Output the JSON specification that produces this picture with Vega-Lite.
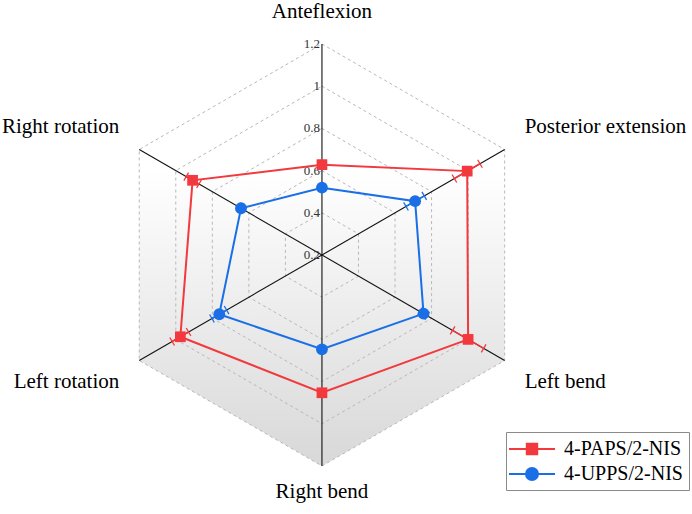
{
  "$schema": "https://vega.github.io/schema/vega-lite/v6.json",
  "width": 692,
  "height": 514,
  "autosize": {"type": "none"},
  "padding": 0,
  "background": "white",
  "config": {"view": {"stroke": null}, "font": "Liberation Serif"},
  "datasets": {
    "scores": [
      {"series": "4-PAPS/2-NIS", "axis": "Anteflexion", "i": 0, "value": 0.628, "err": 0.02},
      {"series": "4-PAPS/2-NIS", "axis": "Posterior extension", "i": 1, "value": 0.995, "err": 0.07},
      {"series": "4-PAPS/2-NIS", "axis": "Left bend", "i": 2, "value": 1.0, "err": 0.085},
      {"series": "4-PAPS/2-NIS", "axis": "Right bend", "i": 3, "value": 0.853, "err": 0.01},
      {"series": "4-PAPS/2-NIS", "axis": "Left rotation", "i": 4, "value": 0.975, "err": 0.045},
      {"series": "4-PAPS/2-NIS", "axis": "Right rotation", "i": 5, "value": 0.908, "err": 0.035},
      {"series": "4-UPPS/2-NIS", "axis": "Anteflexion", "i": 0, "value": 0.519, "err": 0.01},
      {"series": "4-UPPS/2-NIS", "axis": "Posterior extension", "i": 1, "value": 0.71, "err": 0.05},
      {"series": "4-UPPS/2-NIS", "axis": "Left bend", "i": 2, "value": 0.756, "err": 0.02},
      {"series": "4-UPPS/2-NIS", "axis": "Right bend", "i": 3, "value": 0.647, "err": 0.01},
      {"series": "4-UPPS/2-NIS", "axis": "Left rotation", "i": 4, "value": 0.762, "err": 0.04},
      {"series": "4-UPPS/2-NIS", "axis": "Right rotation", "i": 5, "value": 0.643, "err": 0.015}
    ],
    "axes": [
      {"i": 0, "axis": "Anteflexion"},
      {"i": 1, "axis": "Posterior extension"},
      {"i": 2, "axis": "Left bend"},
      {"i": 3, "axis": "Right bend"},
      {"i": 4, "axis": "Left rotation"},
      {"i": 5, "axis": "Right rotation"}
    ],
    "rings": [
      {"ring": 0.4, "k": [0, 1, 2, 3, 4, 5]},
      {"ring": 0.6, "k": [0, 1, 2, 3, 4, 5]},
      {"ring": 0.8, "k": [0, 1, 2, 3, 4, 5]},
      {"ring": 1.0, "k": [0, 1, 2, 3, 4, 5]},
      {"ring": 1.2, "k": [0, 1, 2, 3, 4, 5]}
    ],
    "ticklabels": [
      {"v": 0.2}, {"v": 0.4}, {"v": 0.6}, {"v": 0.8}, {"v": 1.0}, {"v": 1.2}
    ],
    "bg": [{"i": 5}, {"i": 0}, {"i": 1}]
  },
  "encoding": {
    "x": {"field": "x", "type": "quantitative", "scale": {"domain": [-1.526, 1.754], "nice": false, "zero": false}, "axis": null},
    "y": {"field": "y", "type": "quantitative", "scale": {"domain": [-1.2275, 1.2085], "nice": false, "zero": false}, "axis": null}
  },
  "layer": [
    {
      "data": {"name": "bg"},
      "transform": [
        {"calculate": "(90 - 60 * datum.i) * PI / 180", "as": "a"},
        {"calculate": "cos(datum.a)", "as": "x"},
        {"calculate": "sin(datum.a)", "as": "y"},
        {"calculate": "-sin(datum.a)", "as": "y2"}
      ],
      "mark": {
        "type": "area",
        "fill": {
          "gradient": "linear", "x1": 0, "y1": 0, "x2": 0, "y2": 1,
          "stops": [
            {"offset": 0, "color": "#ffffff"},
            {"offset": 0.3, "color": "#ffffff"},
            {"offset": 1, "color": "#d8d8d8"}
          ]
        },
        "stroke": null
      },
      "encoding": {"y2": {"field": "y2"}}
    },
    {
      "data": {"name": "rings"},
      "transform": [
        {"flatten": ["k"]},
        {"calculate": "(90 - 60 * datum.k) * PI / 180", "as": "a"},
        {"calculate": "(datum.ring - 0.2) * cos(datum.a)", "as": "x"},
        {"calculate": "(datum.ring - 0.2) * sin(datum.a)", "as": "y"}
      ],
      "mark": {"type": "line", "interpolate": "linear-closed", "stroke": "#b8b8b8", "strokeWidth": 1, "strokeDash": [3, 3]},
      "encoding": {
        "detail": {"field": "ring", "type": "nominal"},
        "order": {"field": "k", "type": "quantitative"}
      }
    },
    {
      "data": {"name": "axes"},
      "transform": [
        {"filter": "datum.i < 3"},
        {"calculate": "(90 - 60 * datum.i) * PI / 180", "as": "a"},
        {"calculate": "cos(datum.a)", "as": "x"},
        {"calculate": "sin(datum.a)", "as": "y"},
        {"calculate": "-cos(datum.a)", "as": "x2"},
        {"calculate": "-sin(datum.a)", "as": "y2"}
      ],
      "mark": {"type": "rule", "stroke": "#111111", "strokeWidth": 1.1},
      "encoding": {"x2": {"field": "x2"}, "y2": {"field": "y2"}}
    },
    {
      "data": {"name": "ticklabels"},
      "transform": [
        {"calculate": "0", "as": "x"},
        {"calculate": "datum.v - 0.2", "as": "y"}
      ],
      "mark": {"type": "text", "align": "right", "baseline": "middle", "dx": -2, "fontSize": 13, "font": "Liberation Serif", "fill": "#333333"},
      "encoding": {"text": {"field": "v", "type": "quantitative", "format": "~g"}}
    },
    {
      "data": {"name": "axes"},
      "transform": [
        {"calculate": "(90 - 60 * datum.i) * PI / 180", "as": "a"},
        {"calculate": "cos(datum.a)", "as": "x"},
        {"calculate": "sin(datum.a)", "as": "y"}
      ],
      "mark": {
        "type": "text",
        "font": "Liberation Serif",
        "fontSize": 21,
        "fill": "#000000",
        "baseline": "middle",
        "align": {"expr": "(datum.i == 1 || datum.i == 2) ? 'left' : ((datum.i == 4 || datum.i == 5) ? 'right' : 'center')"},
        "dx": {"expr": "(datum.i == 1 || datum.i == 2) ? 20 : ((datum.i == 4 || datum.i == 5) ? -20 : 0)"},
        "dy": {"expr": "datum.i == 0 ? -32 : (datum.i == 3 ? 26 : ((datum.i == 1 || datum.i == 5) ? -22 : 22))"}
      },
      "encoding": {"text": {"field": "axis", "type": "nominal"}}
    },
    {
      "data": {"name": "scores"},
      "transform": [
        {"calculate": "(90 - 60 * datum.i) * PI / 180", "as": "a"},
        {"calculate": "(datum.value - 0.2) * cos(datum.a)", "as": "x"},
        {"calculate": "(datum.value - 0.2) * sin(datum.a)", "as": "y"}
      ],
      "mark": {"type": "line", "interpolate": "linear-closed", "strokeWidth": 2},
      "encoding": {
        "order": {"field": "i", "type": "quantitative"},
        "color": {"field": "series", "type": "nominal"}
      }
    },
    {
      "data": {"name": "scores"},
      "transform": [
        {"calculate": "(90 - 60 * datum.i) * PI / 180", "as": "a"},
        {"calculate": "(datum.value - datum.err - 0.2) * cos(datum.a)", "as": "x"},
        {"calculate": "(datum.value - datum.err - 0.2) * sin(datum.a)", "as": "y"},
        {"calculate": "(datum.value + datum.err - 0.2) * cos(datum.a)", "as": "x2"},
        {"calculate": "(datum.value + datum.err - 0.2) * sin(datum.a)", "as": "y2"}
      ],
      "mark": {"type": "rule", "strokeWidth": 1.5},
      "encoding": {
        "x2": {"field": "x2"},
        "y2": {"field": "y2"},
        "color": {"field": "series", "type": "nominal"}
      }
    },
    {
      "data": {"name": "scores"},
      "transform": [
        {"calculate": "datum.value - datum.err", "as": "lo"},
        {"calculate": "datum.value + datum.err", "as": "hi"},
        {"fold": ["lo", "hi"], "as": ["end", "tv"]},
        {"calculate": "(90 - 60 * datum.i) * PI / 180", "as": "a"},
        {"calculate": "(datum.tv - 0.2) * cos(datum.a) + 0.022 * sin(datum.a)", "as": "x"},
        {"calculate": "(datum.tv - 0.2) * sin(datum.a) - 0.022 * cos(datum.a)", "as": "y"},
        {"calculate": "(datum.tv - 0.2) * cos(datum.a) - 0.022 * sin(datum.a)", "as": "x2"},
        {"calculate": "(datum.tv - 0.2) * sin(datum.a) + 0.022 * cos(datum.a)", "as": "y2"}
      ],
      "mark": {"type": "rule", "strokeWidth": 1.3},
      "encoding": {
        "x2": {"field": "x2"},
        "y2": {"field": "y2"},
        "color": {"field": "series", "type": "nominal"}
      }
    },
    {
      "data": {"name": "scores"},
      "transform": [
        {"filter": "datum.series === '4-PAPS/2-NIS'"},
        {"calculate": "(90 - 60 * datum.i) * PI / 180", "as": "a"},
        {"calculate": "(datum.value - 0.2) * cos(datum.a)", "as": "x"},
        {"calculate": "(datum.value - 0.2) * sin(datum.a)", "as": "y"}
      ],
      "mark": {"type": "point", "filled": true, "opacity": 1, "shape": "square", "size": 115},
      "encoding": {"color": {"field": "series", "type": "nominal"}}
    },
    {
      "data": {"name": "scores"},
      "transform": [
        {"filter": "datum.series === '4-UPPS/2-NIS'"},
        {"calculate": "(90 - 60 * datum.i) * PI / 180", "as": "a"},
        {"calculate": "(datum.value - 0.2) * cos(datum.a)", "as": "x"},
        {"calculate": "(datum.value - 0.2) * sin(datum.a)", "as": "y"}
      ],
      "mark": {"type": "point", "filled": true, "opacity": 1, "shape": "circle", "size": 140},
      "encoding": {"color": {"field": "series", "type": "nominal"}}
    },
    {
      "data": {"name": "scores"},
      "transform": [
        {"filter": "false"},
        {"calculate": "0", "as": "x"},
        {"calculate": "0", "as": "y"}
      ],
      "mark": {"type": "point", "filled": true, "opacity": 1, "size": 400, "strokeWidth": 2},
      "encoding": {
        "color": {
          "field": "series", "type": "nominal",
          "scale": {"domain": ["4-PAPS/2-NIS", "4-UPPS/2-NIS"], "range": ["#f2393d", "#1a6fe6"]},
          "legend": {
            "title": null,
            "orient": "none",
            "legendX": 506,
            "legendY": 432,
            "padding": 6,
            "strokeColor": "#8a8a8a",
            "fillColor": "#ffffff",
            "symbolSize": 400,
            "symbolStrokeWidth": 2,
            "symbolOffset": 9,
            "labelOffset": 21,
            "rowPadding": 4,
            "labelFont": "Liberation Serif",
            "labelFontSize": 20,
            "labelColor": "#000000"
          }
        },
        "shape": {
          "field": "series", "type": "nominal",
          "scale": {
            "domain": ["4-PAPS/2-NIS", "4-UPPS/2-NIS"],
            "range": [
              "M-2.3,0H2.3M-0.52,-0.52H0.52V0.52H-0.52Z",
              "M-2.3,0H2.3M0.6,0A0.6,0.6,0,1,1,-0.6,0A0.6,0.6,0,1,1,0.6,0Z"
            ]
          },
          "legend": null
        }
      }
    }
  ]
}
